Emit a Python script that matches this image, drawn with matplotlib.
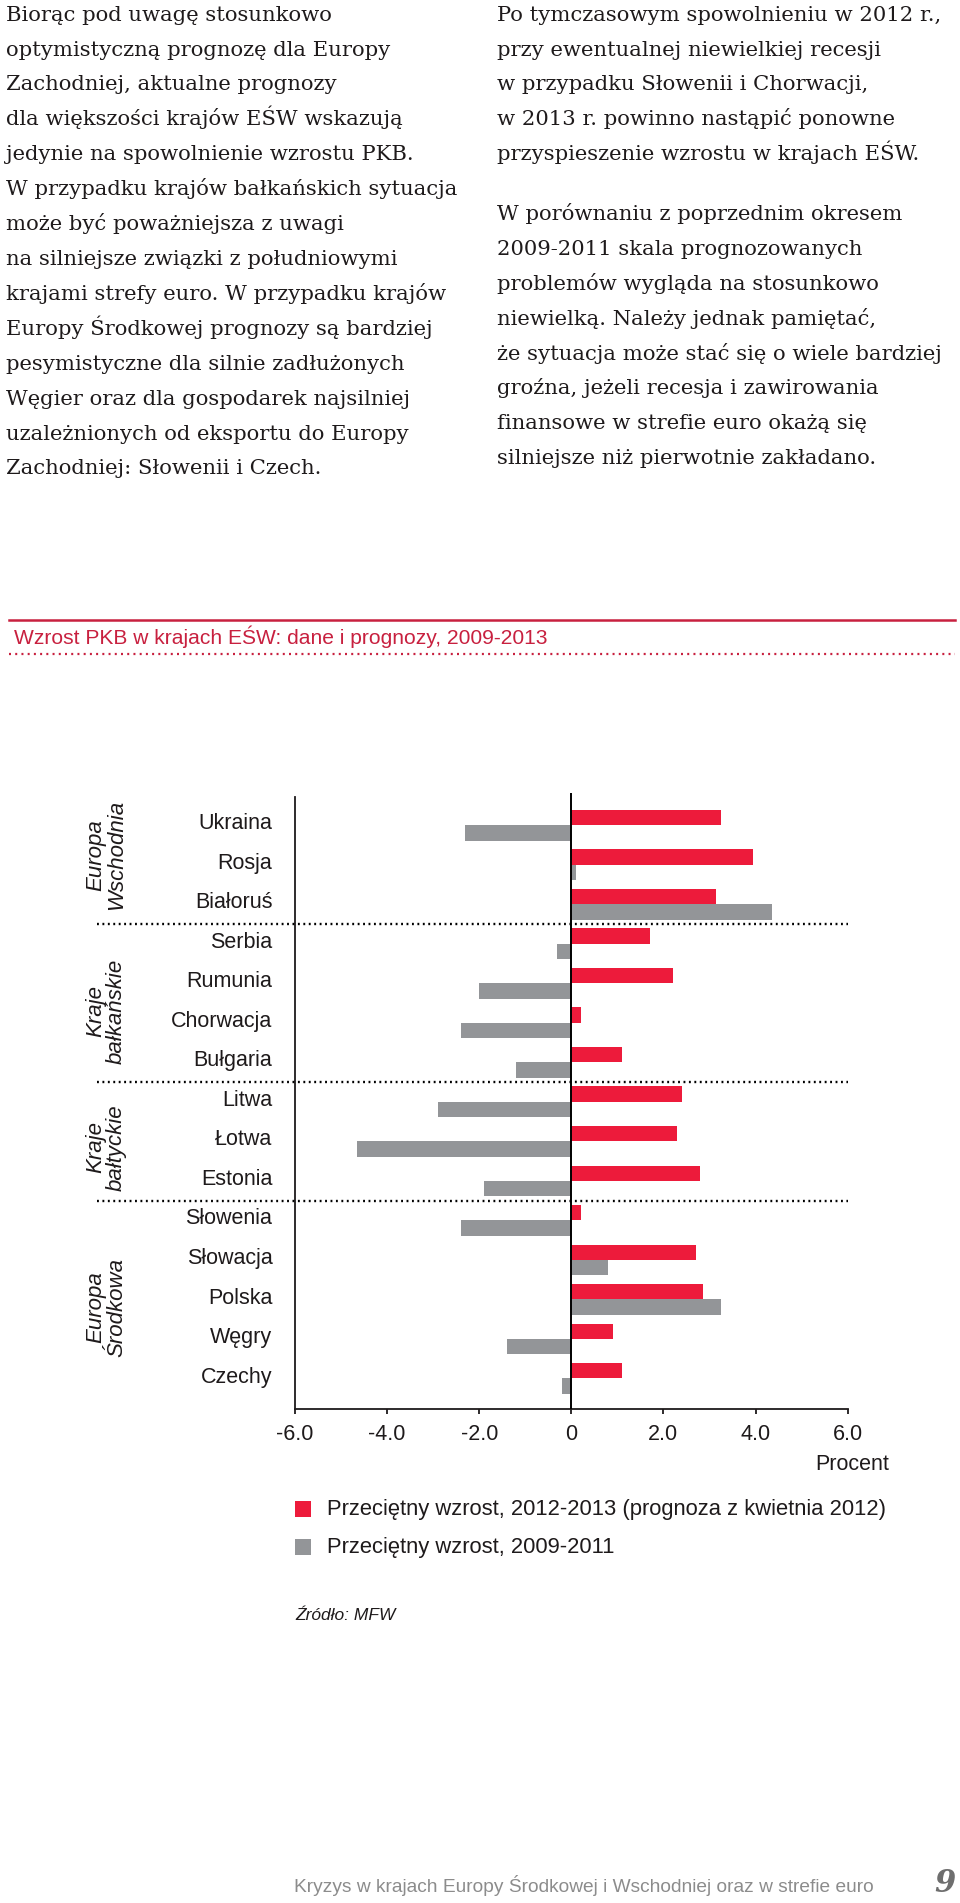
"""Wzrost PKB w krajach EŚW: dane i prognozy, 2009-2013 — page recreation."""
import matplotlib
matplotlib.use("Agg")
import matplotlib.pyplot as plt
import matplotlib.transforms as mtransforms
from matplotlib.lines import Line2D
from matplotlib.patches import Rectangle
import numpy as np

# ── data ────────────────────────────────────────────────────────────
countries = ["Ukraina", "Rosja", "Białoruś", "Serbia", "Rumunia", "Chorwacja",
             "Bułgaria", "Litwa", "Łotwa", "Estonia", "Słowenia", "Słowacja",
             "Polska", "Węgry", "Czechy"]
growth_2012_13 = [3.25, 3.95, 3.15, 1.70, 2.20, 0.20, 1.10, 2.40, 2.30, 2.80,
                  0.20, 2.70, 2.85, 0.90, 1.10]
growth_2009_11 = [-2.30, 0.10, 4.35, -0.30, -2.00, -2.40, -1.20, -2.90, -4.65,
                  -1.90, -2.40, 0.80, 3.25, -1.40, -0.20]
groups = ["Europa\nWschodnia", "Kraje\nbałkańskie", "Kraje\nbałtyckie", "Europa\nŚrodkowa"]
group_rows = [0.75, 4.7, 8.15, 12.2]
separators = [2.5, 6.5, 9.5]
xticks = [-6, -4, -2, 0, 2, 4, 6]
xtick_labels = ["-6.0", "-4.0", "-2.0", "0", "2.0", "4.0", "6.0"]
legend_labels = ["Przeciętny wzrost, 2012-2013 (prognoza z kwietnia 2012)",
                 "Przeciętny wzrost, 2009-2011"]

left_col = [
    "Biorąc pod uwagę stosunkowo",
    "optymistyczną prognozę dla Europy",
    "Zachodniej, aktualne prognozy",
    "dla większości krajów EŚW wskazują",
    "jedynie na spowolnienie wzrostu PKB.",
    "W przypadku krajów bałkańskich sytuacja",
    "może być poważniejsza z uwagi",
    "na silniejsze związki z południowymi",
    "krajami strefy euro. W przypadku krajów",
    "Europy Środkowej prognozy są bardziej",
    "pesymistyczne dla silnie zadłużonych",
    "Węgier oraz dla gospodarek najsilniej",
    "uzależnionych od eksportu do Europy",
    "Zachodniej: Słowenii i Czech.",
]
right_par1 = [
    "Po tymczasowym spowolnieniu w 2012 r.,",
    "przy ewentualnej niewielkiej recesji",
    "w przypadku Słowenii i Chorwacji,",
    "w 2013 r. powinno nastąpić ponowne",
    "przyspieszenie wzrostu w krajach EŚW.",
]
right_par2 = [
    "W porównaniu z poprzednim okresem",
    "2009-2011 skala prognozowanych",
    "problemów wygląda na stosunkowo",
    "niewielką. Należy jednak pamiętać,",
    "że sytuacja może stać się o wiele bardziej",
    "groźna, jeżeli recesja i zawirowania",
    "finansowe w strefie euro okażą się",
    "silniejsze niż pierwotnie zakładano.",
]

RED = "#ED1B3B"
GREY = "#939598"
TITLE_RED = "#C8203F"
INK = "#1E1A1B"
SANS = ["Liberation Sans", "DejaVu Sans"]
SERIF = ["DejaVu Serif"]

W, H = 960, 1903
fig = plt.figure(figsize=(W / 100, H / 100), dpi=100)
fx = lambda x: x / W
fy = lambda y: 1 - y / H

# ── body text, two columns ──────────────────────────────────────────
LINE = 34.9
for k, line in enumerate(left_col):
    fig.text(fx(6), fy(20.7 + LINE * k), line, family=SERIF, fontsize=15.2,
             color=INK, va="baseline", ha="left")
for k, line in enumerate(right_par1):
    fig.text(fx(497), fy(20.7 + LINE * k), line, family=SERIF, fontsize=15.2,
             color=INK, va="baseline", ha="left")
for k, line in enumerate(right_par2):
    fig.text(fx(497), fy(220 + LINE * k), line, family=SERIF, fontsize=15.2,
             color=INK, va="baseline", ha="left")

# ── chart header ────────────────────────────────────────────────────
fig.add_artist(Line2D([fx(9), fx(955)], [fy(619.5), fy(619.5)], color=TITLE_RED,
                      lw=1.8, transform=fig.transFigure))
fig.text(fx(14), fy(637), "Wzrost PKB w krajach EŚW: dane i prognozy, 2009-2013",
         family=SANS, fontsize=15.1, color=TITLE_RED, va="center", ha="left")
fig.add_artist(Line2D([fx(9), fx(955)], [fy(653.5), fy(653.5)], color=TITLE_RED,
                      lw=1.6, ls=(0, (0.9, 1.9)), transform=fig.transFigure))

# ── bar chart ───────────────────────────────────────────────────────
ax = fig.add_axes([fx(295), fy(1409.3), (847.6 - 295) / W, (1409.3 - 792.7) / H])
rows = np.arange(len(countries))
bh = 0.39
ax.barh(rows - bh / 2, growth_2012_13, height=bh, color=RED, lw=0, label=legend_labels[0])
ax.barh(rows + bh / 2, growth_2009_11, height=bh, color=GREY, lw=0, label=legend_labels[1])

ax.set_xlim(-6, 6)
ax.set_ylim(14.78, -0.825)
ax.axvline(0, color="black", lw=1.4, zorder=3)

ax.set_yticks(rows - 0.1)
ax.set_yticklabels(countries, family=SANS, fontsize=15.5, color=INK)
ax.tick_params(axis="y", length=0, pad=16.3)
ax.set_xticks(xticks)
ax.set_xticklabels(xtick_labels, family=SANS, fontsize=15.5, color=INK)
ax.tick_params(axis="x", direction="out", length=3.6, width=1.3, pad=7, color=INK)

for s in ("top", "right"):
    ax.spines[s].set_visible(False)
for s in ("left", "bottom"):
    ax.spines[s].set_linewidth(1.3)
    ax.spines[s].set_color(INK)
ax.spines["left"].set_bounds(-0.71, 14.78)

# dotted group separators reaching into the label area
for y in separators:
    ax.plot([-10.31, 6], [y, y], color="black", lw=1.7, ls=(0, (0.8, 1.5)),
            clip_on=False, zorder=4)

# rotated group names
trans = mtransforms.blended_transform_factory(fig.transFigure, ax.transData)
for name, r in zip(groups, group_rows):
    ax.text(fx(106), r, name, transform=trans, rotation=90, ha="center", va="center",
            multialignment="center", family=SANS, style="italic", fontsize=16,
            color=INK, linespacing=1.0)

fig.text(fx(889.5), fy(1464), "Procent", family=SANS, fontsize=15.5, color=INK,
         ha="right", va="center")

# ── legend & source ─────────────────────────────────────────────────
for color, label, yc in zip([RED, GREY], legend_labels, [1509, 1547]):
    fig.add_artist(Rectangle((fx(295), fy(yc + 8)), 16 / W, 16 / H, color=color,
                             lw=0, transform=fig.transFigure))
    fig.text(fx(327), fy(yc), label, family=SANS, fontsize=15.8, color=INK,
             ha="left", va="center")

fig.text(fx(295), fy(1616), "Źródło: MFW", family=SANS, style="italic",
         fontsize=12.5, color=INK, ha="left", va="center")

# ── footer ──────────────────────────────────────────────────────────
fig.text(fx(294), fy(1886), "Kryzys w krajach Europy Środkowej i Wschodniej oraz w strefie euro",
         family=SANS, fontsize=13.8, color="#8C8C8C", ha="left", va="center")
fig.text(fx(956), fy(1883), "9", family=SERIF, fontsize=22, weight="bold", style="italic",
         color="#6E6E6E", ha="right", va="center")

fig.savefig("out.png", dpi=100)
plt.close(fig)
